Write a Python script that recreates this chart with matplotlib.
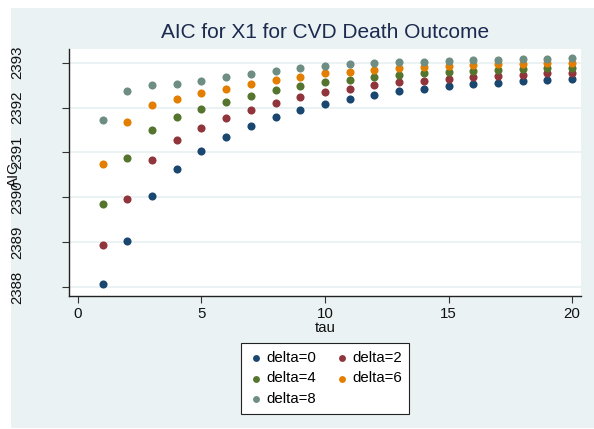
import matplotlib.pyplot as plt
from matplotlib.patches import Rectangle

plt.rcParams['font.family'] = ['Liberation Sans', 'DejaVu Sans']

tau = list(range(1, 21))

# AIC by tau for each delta
aic_d0 = [2388.06, 2389.02, 2390.02, 2390.64, 2391.04, 2391.34, 2391.58, 2391.78, 2391.95, 2392.08,
          2392.19, 2392.29, 2392.36, 2392.42, 2392.48, 2392.52, 2392.55, 2392.59, 2392.62, 2392.64]
aic_d2 = [2388.93, 2389.97, 2390.82, 2391.27, 2391.55, 2391.77, 2391.95, 2392.10, 2392.23, 2392.34,
          2392.42, 2392.50, 2392.56, 2392.60, 2392.64, 2392.68, 2392.71, 2392.73, 2392.76, 2392.78]
aic_d4 = [2389.84, 2390.88, 2391.50, 2391.78, 2391.96, 2392.12, 2392.26, 2392.38, 2392.48, 2392.56,
          2392.62, 2392.68, 2392.73, 2392.76, 2392.80, 2392.82, 2392.84, 2392.86, 2392.88, 2392.89]
aic_d6 = [2390.74, 2391.68, 2392.06, 2392.20, 2392.32, 2392.42, 2392.52, 2392.62, 2392.69, 2392.76,
          2392.80, 2392.84, 2392.88, 2392.90, 2392.93, 2392.94, 2392.96, 2392.97, 2392.99, 2393.00]
aic_d8 = [2391.73, 2392.36, 2392.50, 2392.53, 2392.60, 2392.67, 2392.75, 2392.81, 2392.87, 2392.92,
          2392.96, 2392.99, 2393.01, 2393.02, 2393.04, 2393.06, 2393.07, 2393.08, 2393.09, 2393.10]

series = [("delta=0", aic_d0, "#1a476f"),
          ("delta=2", aic_d2, "#90353b"),
          ("delta=4", aic_d4, "#55752f"),
          ("delta=6", aic_d6, "#e37e00"),
          ("delta=8", aic_d8, "#6e8e84")]

yticks = [2388, 2389, 2390, 2391, 2392, 2393]
xticks = [0, 5, 10, 15, 20]

fig = plt.figure(figsize=(5.94, 4.29), dpi=100)
fig.patch.set_facecolor("white")
# graph region background, behind the axes
bg = Rectangle((11 / 594, 1 / 429), 583 / 594, 420 / 429,
               transform=fig.transFigure, facecolor="#eaf2f3",
               edgecolor="none", zorder=-10)
fig.add_artist(bg)

ax = fig.add_axes([69 / 594, 133 / 429, 512 / 594, 247 / 429])
ax.set_facecolor("white")

handles = {}
for name, vals, col in series:
    h = ax.scatter(tau, vals, s=34, color=col, linewidths=0, zorder=3, label=name)
    handles[name] = h

ax.set_xlim(-0.364, 20.364)
ax.set_ylim(2387.8, 2393.304)
ax.set_xticks(xticks)
ax.set_yticks(yticks)
ax.set_yticklabels([str(v) for v in yticks], rotation=90, va="center")
ax.grid(axis="y", color="#eaf2f3", linewidth=1.4, zorder=1)
ax.set_axisbelow(True)

for s in ["top", "right"]:
    ax.spines[s].set_visible(False)
for s in ["left", "bottom"]:
    ax.spines[s].set_color("#222222")
    ax.spines[s].set_linewidth(1.0)

ax.tick_params(axis="both", length=5, width=0.8, color="#333333", labelsize=10.8, labelcolor="#111111")
ax.tick_params(axis="y", pad=27)
ax.tick_params(axis="x", pad=3)

ax.set_xlabel("tau", fontsize=10.8, labelpad=0, color="#111111")
fig.text(14 / 594, 1 - 175 / 429, "AIC", rotation=90, ha="center", va="center",
         fontsize=10.8, color="#111111")

fig.text(325 / 594, 1 - 33 / 429, "AIC for X1 for CVD Death Outcome", ha="center", va="center",
         fontsize=15, color="#1c2a4f")

order = ["delta=0", "delta=4", "delta=8", "delta=2", "delta=6"]
leg = fig.legend([handles[n] for n in order], order, ncol=2,
                 loc="center", bbox_to_anchor=(325 / 594, 1 - 378.5 / 429),
                 fontsize=10.8, frameon=True, fancybox=False, framealpha=1,
                 handletextpad=0.2, columnspacing=1.2, labelspacing=0.45,
                 borderpad=0.5, handlelength=1.0, markerscale=0.85)
leg.get_frame().set_edgecolor("#222222")
leg.get_frame().set_facecolor("white")
leg.get_frame().set_linewidth(0.8)

fig.savefig("out.png", dpi=100)
